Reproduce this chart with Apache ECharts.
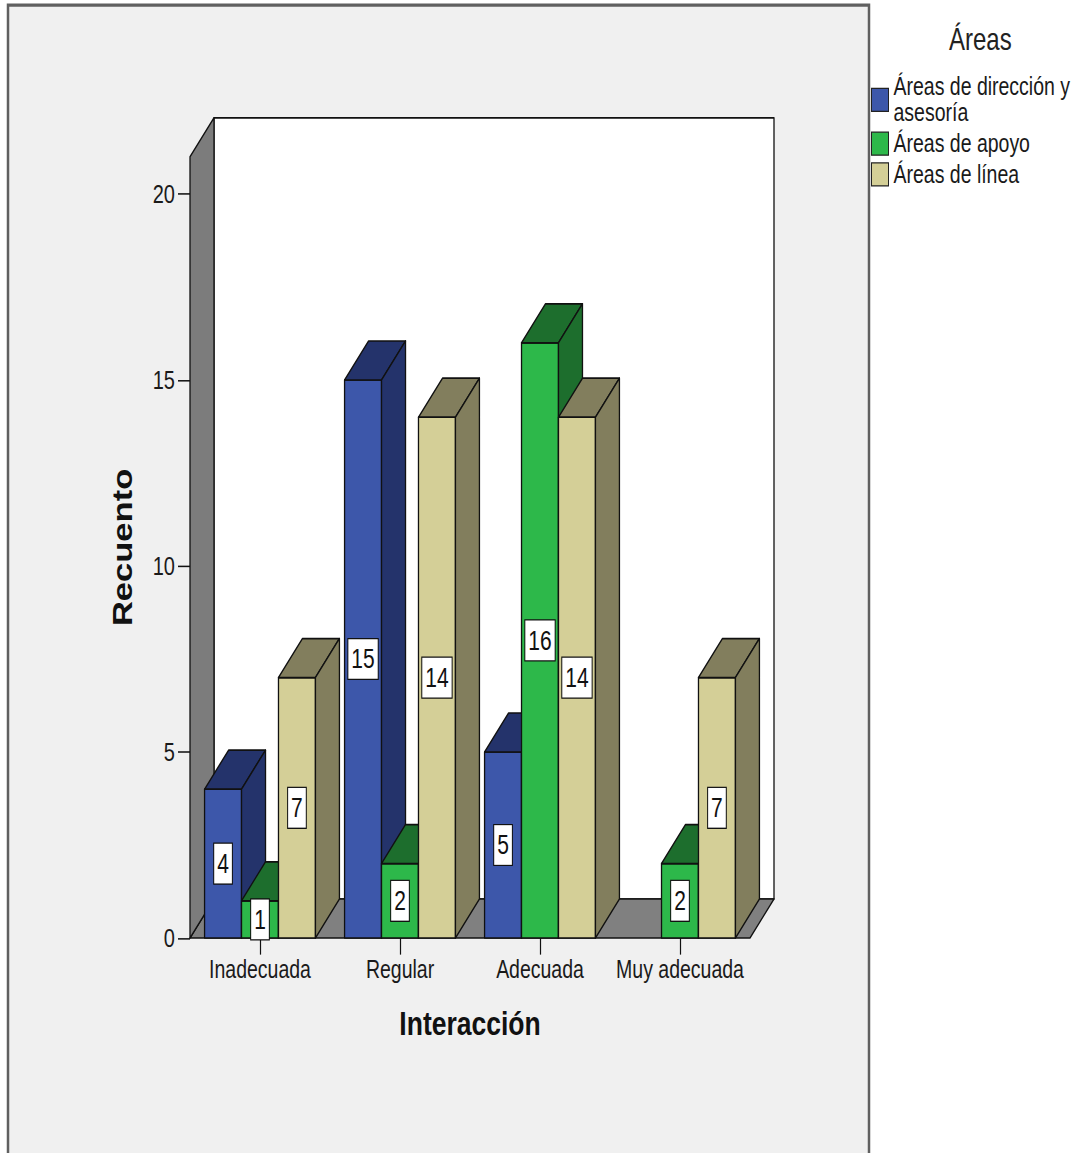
<!DOCTYPE html>
<html lang="es">
<head>
<meta charset="utf-8">
<title>Interacción por Áreas</title>
<script src="https://cdn.jsdelivr.net/npm/echarts@6/dist/echarts.min.js"></script>
<style>
  html { margin: 0; padding: 0; background: #ffffff; overflow: hidden; }
  body { margin: 0; padding: 0; background: #ffffff; width: 1091px; height: 1153px; }
  #chart { width: 1091px; transform-origin: 0 0; }
</style>
</head>
<body>
<div id="chart"></div>
<script>
// Data
const CATEGORIES = ['Inadecuada', 'Regular', 'Adecuada', 'Muy adecuada'];
const SERIES_NAMES = ['Áreas de dirección y asesoría', 'Áreas de apoyo', 'Áreas de línea'];
const DIRECCION = [4, 15, 5, 0];
const APOYO = [1, 2, 16, 2];
const LINEA = [7, 14, 14, 7];
const Y_TICKS = [0, 5, 10, 15, 20];
const Y_MAX = 21;

// Styling
const FRONT = ['#3d57aa', '#2db84a', '#d4cf97'];
const SHADE = ['#24336b', '#1d6e2d', '#827e5d'];
const FONT = '"Liberation Sans", Arial, sans-serif';
const SY = 1.28;              // vertical stretch applied to the whole drawing
const H = 1153 / SY;           // unstretched drawing height
const DX = 24;                 // 3D depth offset (x)
const DY = 39 / SY;            // 3D depth offset (y, upward)
const BAR_FRAC = 0.264;        // bar width as a fraction of the category band

const dom = document.getElementById('chart');
dom.style.height = H + 'px';
dom.style.transform = 'scaleY(' + SY + ')';

const chart = echarts.init(dom, null, { renderer: 'svg', width: 1091, height: H });

const EDGE = { stroke: '#111111', lineWidth: 1.3, lineJoin: 'round' };

// Grey side wall, white back wall and grey floor of the 3D box
function renderWalls(params, api) {
  const cs = params.coordSys;
  const x0 = cs.x, y0 = cs.y, w = cs.width, h = cs.height;
  const yb = y0 + h;
  return {
    type: 'group',
    children: [
      { type: 'rect', shape: { x: x0 + DX, y: y0 - DY, width: w, height: h },
        style: Object.assign({ fill: '#ffffff' }, EDGE) },
      { type: 'polygon', shape: { points: [[x0, yb], [x0 + w, yb], [x0 + w + DX, yb - DY], [x0 + DX, yb - DY]] },
        style: Object.assign({ fill: '#808080' }, EDGE) },
      { type: 'polygon', shape: { points: [[x0, yb], [x0, y0], [x0 + DX, y0 - DY], [x0 + DX, yb - DY]] },
        style: Object.assign({ fill: '#7c7c7c' }, EDGE) }
    ]
  };
}

// One 3D bar: front face, top face, side face and a boxed value label
function barRenderer(si) {
  return function (params, api) {
    const val = api.value(1);
    if (!(val > 0)) return null;
    const cat = api.value(0);
    const base = api.coord([cat, 0]);
    const top = api.coord([cat, val]);
    const bw = api.size([1, 0])[0] * BAR_FRAC;
    const x = base[0] - 1.5 * bw + si * bw;
    const yT = top[1], yB = base[1];
    return {
      type: 'group',
      children: [
        { type: 'rect', shape: { x: x, y: yT, width: bw, height: yB - yT },
          style: Object.assign({ fill: FRONT[si] }, EDGE) },
        { type: 'polygon', shape: { points: [[x, yT], [x + DX, yT - DY], [x + bw + DX, yT - DY], [x + bw, yT]] },
          style: Object.assign({ fill: SHADE[si] }, EDGE) },
        { type: 'polygon', shape: { points: [[x + bw, yT], [x + bw + DX, yT - DY], [x + bw + DX, yB - DY], [x + bw, yB]] },
          style: Object.assign({ fill: SHADE[si] }, EDGE) },
        { type: 'text', x: x + bw / 2, y: (yT + yB) / 2,
          style: { text: String(val), fill: '#111111', fontSize: 21, fontFamily: FONT,
                   align: 'center', verticalAlign: 'middle', lineHeight: 23,
                   backgroundColor: '#ffffff', borderColor: '#111111', borderWidth: 1,
                   padding: [4, 3, 4, 3] } }
      ]
    };
  };
}

const VALUES = [DIRECCION, APOYO, LINEA];
const barSeries = SERIES_NAMES.map(function (name, si) {
  return {
    type: 'custom',
    name: name,
    clip: false,
    itemStyle: { color: FRONT[si] },
    encode: { x: 0, y: 1 },
    data: VALUES[si].map(function (v, ci) { return [ci, v]; }),
    renderItem: barRenderer(si)
  };
});

const LEGEND_TEXT = {};
LEGEND_TEXT[SERIES_NAMES[0]] = 'Áreas de dirección y\nasesoría';

const option = {
  backgroundColor: '#ffffff',
  animation: false,
  graphic: [
    { type: 'rect', z: -100, silent: true,
      shape: { x: 8, y: 4, width: 861, height: H + 40 },
      style: { fill: '#f0f0f0', stroke: '#606060', lineWidth: 2.5 } }
  ],
  title: {
    text: 'Áreas',
    left: 944, top: 14,
    textStyle: { fontSize: 24, fontWeight: 'normal', color: '#222222', fontFamily: FONT }
  },
  legend: {
    orient: 'vertical',
    left: 866, top: 52.5,
    data: SERIES_NAMES,
    icon: 'rect',
    itemWidth: 17, itemHeight: 18, itemGap: 3.5,
    selectedMode: false,
    formatter: function (name) { return LEGEND_TEXT[name] || name; },
    itemStyle: { borderColor: '#222222', borderWidth: 1 },
    textStyle: { fontSize: 19.5, lineHeight: 20.5, color: '#1a1a1a', fontFamily: FONT }
  },
  grid: {
    left: 190,
    width: 560,
    top: 156.8 / SY,
    height: (938 - 156.8) / SY
  },
  xAxis: {
    type: 'category',
    data: CATEGORIES,
    boundaryGap: true,
    name: 'Interacción',
    nameLocation: 'middle',
    nameGap: 53,
    nameTextStyle: { fontSize: 26.5, fontWeight: 'bold', color: '#111111', fontFamily: FONT },
    axisLine: { show: false },
    axisTick: { show: true, interval: 0, alignWithLabel: true, length: 13, lineStyle: { color: '#111111', width: 1.2 } },
    axisLabel: { interval: 0, margin: 15, fontSize: 19.5, color: '#1a1a1a', fontFamily: FONT },
    splitLine: { show: false }
  },
  yAxis: {
    type: 'value',
    min: 0, max: Y_MAX, interval: 5,
    name: 'Recuento',
    nameLocation: 'middle',
    nameGap: 54,
    nameRotate: 90,
    nameTextStyle: { fontSize: 27, fontWeight: 'bold', color: '#111111', fontFamily: FONT },
    axisLine: { show: false },
    axisTick: { show: true, length: 12, customValues: Y_TICKS, lineStyle: { color: '#111111', width: 1.2 } },
    axisLabel: { margin: 15, customValues: Y_TICKS, fontSize: 20, color: '#1a1a1a', fontFamily: FONT },
    splitLine: { show: false }
  },
  series: [
    { type: 'custom', name: 'walls', clip: false, silent: true, z: 1,
      encode: { x: 0, y: 1 }, data: [[0, 0]], renderItem: renderWalls }
  ].concat(barSeries)
};

chart.setOption(option);
</script>
</body>
</html>
